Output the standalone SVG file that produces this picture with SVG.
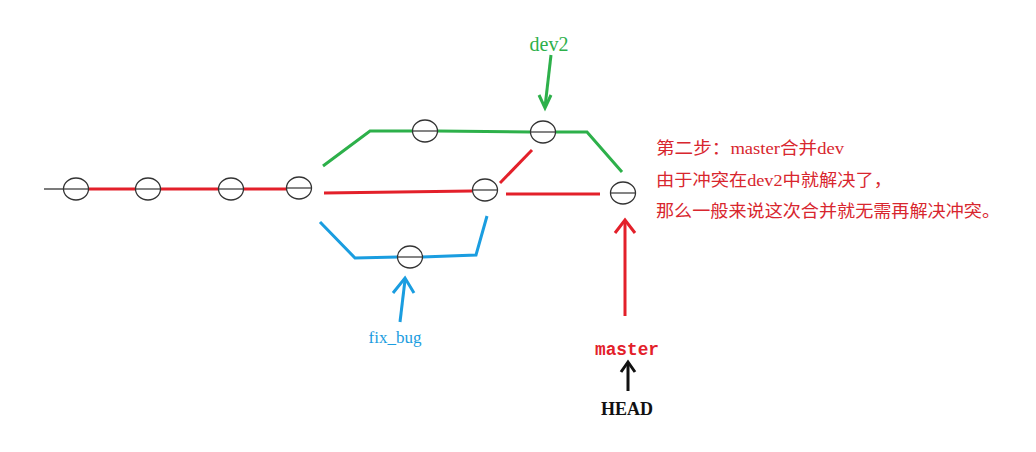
<svg xmlns="http://www.w3.org/2000/svg" width="1036" height="452" viewBox="0 0 1036 452">
<defs>
<style>
.node ellipse{fill:none;stroke:#333;stroke-width:1.3}
.node line{stroke:#333;stroke-width:1.2}
.g{stroke:#2db04a;stroke-width:3;fill:none;stroke-linejoin:miter}
.r{stroke:#e3202a;stroke-width:3;fill:none}
.b{stroke:#1a9de0;stroke-width:3;fill:none}
.k{stroke:#111;stroke-width:3;fill:none}
.note{font-family:"Liberation Serif","Noto Sans CJK SC",serif;font-size:17px;fill:#d8262e}
</style>
</defs>
<rect width="1036" height="452" fill="#fff"/>
<g id="connectors">
<line x1="44" y1="189" x2="64" y2="189" stroke="#333" stroke-width="1.3"/>
<line x1="88" y1="189" x2="136" y2="189" class="r"/>
<line x1="160" y1="189" x2="219" y2="189" class="r"/>
<line x1="243" y1="189" x2="287" y2="189" class="r"/>
<polyline points="323,166 370,131 413,131" class="g"/>
<line x1="437" y1="131" x2="531" y2="132" class="g"/>
<polyline points="555,132 587,132 622,172" class="g"/>
<line x1="324" y1="193" x2="472" y2="191" class="r"/>
<line x1="500" y1="183" x2="532" y2="150" class="r"/>
<line x1="506" y1="194" x2="600" y2="194" class="r"/>
<polyline points="320,222 355,258 398,257" class="b"/>
<polyline points="422,257 476,255 487,216" class="b"/>
<line x1="625" y1="316" x2="625" y2="220" class="r"/>
<polyline points="615,233 625,220 635,233" class="r"/>
<line x1="551" y1="55" x2="545" y2="107" class="g"/>
<polyline points="539,95 545,108 551,95" class="g"/>
<line x1="400" y1="322" x2="405" y2="280" class="b"/>
<polyline points="393,293 405,278 414,293" class="b"/>
<line x1="628" y1="391" x2="628" y2="363" class="k"/>
<polyline points="621,372 628,362 635,372" class="k"/>
</g>
<g id="n1" class="node"><ellipse cx="76" cy="189" rx="12.5" ry="11"/><line x1="64" y1="189" x2="88" y2="189"/></g>
<g id="n2" class="node"><ellipse cx="148" cy="189" rx="12.5" ry="11"/><line x1="136" y1="189" x2="160" y2="189"/></g>
<g id="n3" class="node"><ellipse cx="231" cy="189" rx="12.5" ry="11"/><line x1="219" y1="189" x2="243" y2="189"/></g>
<g id="n4" class="node"><ellipse cx="299" cy="188" rx="12.5" ry="11"/><line x1="287" y1="188" x2="311" y2="188"/></g>
<g id="g1" class="node"><ellipse cx="425" cy="131" rx="12.5" ry="11"/><line x1="413" y1="131" x2="437" y2="131"/></g>
<g id="g2" class="node"><ellipse cx="543" cy="132" rx="12.5" ry="11"/><line x1="531" y1="132" x2="555" y2="132"/></g>
<g id="r1" class="node"><ellipse cx="485" cy="190" rx="12.5" ry="11"/><line x1="473" y1="190" x2="497" y2="190"/></g>
<g id="r2" class="node"><ellipse cx="623" cy="193" rx="12.5" ry="11"/><line x1="611" y1="193" x2="635" y2="193"/></g>
<g id="b1" class="node"><ellipse cx="410" cy="257" rx="12.5" ry="11"/><line x1="398" y1="257" x2="422" y2="257"/></g>
<g id="labels">
<text x="549" y="51" text-anchor="middle" font-family="Liberation Serif, serif" font-size="20" fill="#2db04a">dev2</text>
<text x="395" y="343" text-anchor="middle" font-family="Liberation Serif, serif" font-size="17" fill="#1a9de0">fix_bug</text>
<text x="627" y="355" text-anchor="middle" font-family="Liberation Mono, monospace" font-size="19" font-weight="bold" fill="#e3202a" textLength="64" lengthAdjust="spacingAndGlyphs">master</text>
<text x="627" y="415" text-anchor="middle" font-family="Liberation Serif, serif" font-size="18" font-weight="bold" fill="#111">HEAD</text>
<text class="note" x="656" y="154" textLength="188" lengthAdjust="spacingAndGlyphs">第二步：master合并dev</text>
<text class="note" x="656" y="186" textLength="236" lengthAdjust="spacingAndGlyphs">由于冲突在dev2中就解决了，</text>
<text class="note" x="656" y="217" textLength="344" lengthAdjust="spacingAndGlyphs">那么一般来说这次合并就无需再解决冲突。</text>
</g>
</svg>
